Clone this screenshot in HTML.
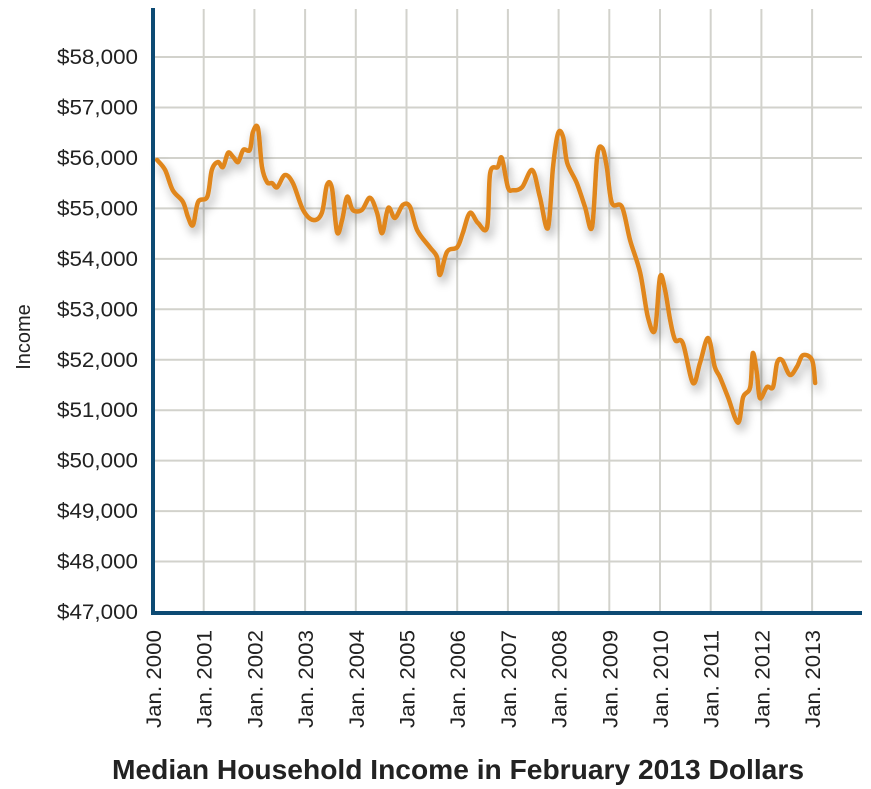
<!DOCTYPE html>
<html><head><meta charset="utf-8"><style>
html,body{margin:0;padding:0;background:#fff;width:871px;height:789px;overflow:hidden}
text{font-family:"Liberation Sans",Arial,sans-serif}
</style></head><body>
<svg id="chart" width="871" height="789" viewBox="0 0 871 789" xmlns="http://www.w3.org/2000/svg">
<defs><filter id="sh" x="-10%" y="-10%" width="120%" height="130%"><feGaussianBlur in="SourceAlpha" stdDeviation="5"/><feOffset dx="3" dy="6"/><feComponentTransfer><feFuncA type="linear" slope="0.35"/></feComponentTransfer><feMerge><feMergeNode/><feMergeNode in="SourceGraphic"/></feMerge></filter></defs>
<g id="grid"></g>
<g id="ylabels"></g>
<g id="xlabels"></g>
<g id="series"></g>
<line x1="153" y1="8" x2="153" y2="614" stroke="#0d4a73" stroke-width="4"/>
<line x1="151" y1="613" x2="862" y2="613" stroke="#0d4a73" stroke-width="4"/>
<text transform="translate(30,337) rotate(-90)" text-anchor="middle" font-size="20" fill="#222">Income</text>
<text x="458" y="779" text-anchor="middle" font-size="28" font-weight="bold" fill="#222" textLength="692" lengthAdjust="spacingAndGlyphs">Median Household Income in February 2013 Dollars</text>
</svg>
<script>
const yTicks=[47000,48000,49000,50000,51000,52000,53000,54000,55000,56000,57000,58000];
const xYears=[2000,2001,2002,2003,2004,2005,2006,2007,2008,2009,2010,2011,2012,2013];
const dates=[0.08,0.24,0.39,0.59,0.69,0.79,0.89,1.07,1.16,1.28,1.38,1.48,1.58,1.68,1.78,1.91,1.97,2.07,2.15,2.25,2.35,2.45,2.60,2.76,2.96,3.16,3.33,3.43,3.53,3.63,3.73,3.83,3.94,4.12,4.28,4.42,4.52,4.64,4.77,4.93,5.07,5.21,5.46,5.60,5.66,5.80,6.00,6.11,6.25,6.41,6.59,6.65,6.80,6.88,7.00,7.10,7.28,7.48,7.63,7.79,7.89,7.99,8.09,8.17,8.36,8.52,8.66,8.76,8.86,8.95,9.05,9.25,9.41,9.61,9.76,9.90,10.00,10.10,10.20,10.30,10.45,10.65,10.79,10.95,11.08,11.18,11.34,11.54,11.64,11.78,11.83,11.91,11.97,12.11,12.23,12.31,12.41,12.56,12.70,12.82,13.00,13.06];
const incomes=[55960,55760,55360,55130,54830,54670,55130,55230,55760,55920,55820,56100,56020,55920,56160,56160,56510,56590,55820,55520,55500,55420,55660,55500,54970,54770,54910,55460,55400,54530,54770,55230,54970,54970,55210,54910,54510,55010,54810,55070,55030,54570,54230,54040,53680,54140,54230,54510,54910,54710,54630,55700,55820,56000,55420,55360,55420,55760,55230,54610,55820,56490,56410,55900,55500,55030,54630,56020,56200,55820,55110,55030,54370,53720,52850,52590,53640,53380,52790,52390,52330,51540,51940,52430,51860,51660,51260,50750,51260,51460,52130,51740,51240,51460,51460,51940,51990,51700,51860,52090,51990,51540];
const NS='http://www.w3.org/2000/svg';
const X=t=>153+t*50.7;
const Y=v=>612-(v-47000)*0.05045;
const grid=document.getElementById('grid'),yl=document.getElementById('ylabels'),xl=document.getElementById('xlabels'),ser=document.getElementById('series');
function mk(tag,at,p){const e=document.createElementNS(NS,tag);for(const k in at)e.setAttribute(k,at[k]);p.appendChild(e);return e;}
yTicks.forEach(v=>{
  const y=Y(v);
  if(v>47000){const l=mk('line',{x1:153,x2:862,y1:y,y2:y,stroke:'#d2d2cc','stroke-width':2},grid);
  
  }
  const t=mk('text',{x:138,y:y+7,'text-anchor':'end','font-size':21,fill:'#222',textLength:81,lengthAdjust:'spacingAndGlyphs'},yl);
  t.textContent='$'+v.toLocaleString('en-US');
  
  
});
xYears.forEach((yr,i)=>{
  const x=X(yr-2000);
  if(i>0){const l=mk('line',{x1:x,x2:x,y1:9,y2:612,stroke:'#d2d2cc','stroke-width':2},grid);
  
  }
  const t=mk('text',{transform:`translate(${x+8},630) rotate(-90)`,'text-anchor':'end','font-size':21,fill:'#222',textLength:98,lengthAdjust:'spacingAndGlyphs'},xl);
  t.textContent='Jan. '+yr;
  
  
});
const pts=dates.map((d,i)=>[X(d),Y(incomes[i])]);
let d='M'+pts[0][0]+','+pts[0][1];
for(let i=0;i<pts.length-1;i++){
  const p0=pts[Math.max(0,i-1)],p1=pts[i],p2=pts[i+1],p3=pts[Math.min(pts.length-1,i+2)];
  const c1=[p1[0]+(p2[0]-p0[0])/6,p1[1]+(p2[1]-p0[1])/6],c2=[p2[0]-(p3[0]-p1[0])/6,p2[1]-(p3[1]-p1[1])/6];
  d+=` C${c1[0]},${c1[1]} ${c2[0]},${c2[1]} ${p2[0]},${p2[1]}`;
}
const path=mk('path',{d:d,fill:'none',stroke:'#e0861a','stroke-width':4.5,'stroke-linejoin':'round','stroke-linecap':'round',filter:'url(#sh)'},ser);


</script>
</body></html>
